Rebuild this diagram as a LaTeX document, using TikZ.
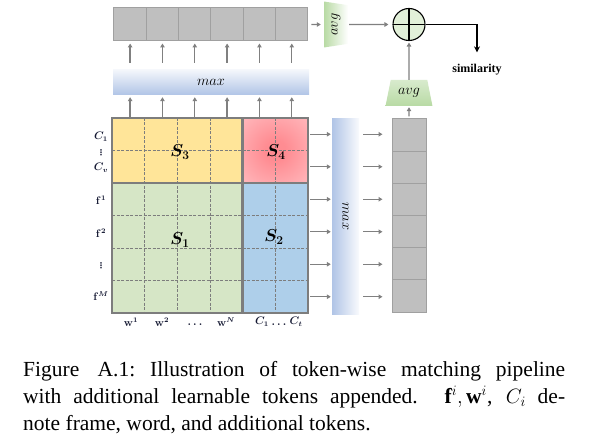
\documentclass[tikz,border=0pt]{standalone}
\usepackage{fontspec}
\setmainfont{Liberation Serif}
\newfontfamily\dotsfont{DejaVu Sans}
\usetikzlibrary{arrows.meta,shapes.geometric}

\definecolor{cellgray}{RGB}{191,191,191}
\definecolor{celledge}{RGB}{160,160,160}
\definecolor{arrgray}{RGB}{128,128,128}
\definecolor{gridgray}{RGB}{125,125,125}
\definecolor{sthree}{RGB}{255,229,153}
\definecolor{sone}{RGB}{214,230,198}
\definecolor{stwo}{RGB}{174,207,234}
\definecolor{sfourin}{RGB}{255,140,146}
\definecolor{sfourout}{RGB}{255,214,217}
\definecolor{maxblue}{RGB}{176,196,230}
\definecolor{avggreen}{RGB}{184,218,164}
\definecolor{plusgreen}{RGB}{226,240,217}
\definecolor{lblnavy}{RGB}{20,24,50}

\pgfdeclareradialshading{sfourglow}{\pgfpoint{0bp}{0bp}}{%
  color(0bp)=(sfourin); color(8bp)=(sfourin); color(55bp)=(sfourout); color(75bp)=(sfourout)}

\begin{document}
\begin{tikzpicture}[x=1pt,y=-1pt,
  topcell/.style={draw=celledge,fill=cellgray,line width=1pt,minimum width=32.3pt,minimum height=33pt,inner sep=0},
  colcell/.style={draw=celledge,fill=cellgray,line width=1pt,minimum width=34pt,minimum height=32.2pt,inner sep=0},
  arr/.style={draw=arrgray,line width=1.3pt,-{Triangle[length=4pt,width=4.5pt]}},
  gridline/.style={draw=gridgray,line width=0.6pt,dash pattern=on 3pt off 1.5pt},
  gridthick/.style={draw=gridgray,line width=2.6pt},
  lbl/.style={font=\fontsize{10.5}{12}\selectfont\boldmath,text=lblnavy,inner sep=0},
  dotlbl/.style={font=\dotsfont\bfseries\fontsize{8}{9}\selectfont,text=lblnavy,inner sep=0},
  slbl/.style={font=\fontsize{18}{20}\selectfont\boldmath,inner sep=0},
  maxh/.style={minimum width=196pt,minimum height=25pt,inner sep=0,top color=maxblue!15,bottom color=maxblue,font=\fontsize{14.5}{16}\selectfont},
  maxv/.style={minimum width=27pt,minimum height=195pt,inner sep=0,left color=maxblue,right color=maxblue!8,font=\fontsize{14.5}{16}\selectfont},
  avgb/.style={trapezium,trapezium stretches=true,trapezium left angle=71,trapezium right angle=71,minimum width=47pt,minimum height=26pt,inner sep=0,top color=avggreen!55,bottom color=avggreen,font=\fontsize{14.5}{16}\selectfont},
  avgt/.style={trapezium,shape border rotate=270,trapezium stretches=true,trapezium left angle=77,trapezium right angle=77,minimum width=46pt,minimum height=24pt,inner sep=0,left color=avggreen,right color=white,font=\fontsize{14.5}{16}\selectfont}
]
\useasboundingbox (0,0) rectangle (589,441);

% top row of scores and column of scores
\foreach \i in {1,...,6} \node[topcell] (t\i) at ({97.8+32.33*\i},24.5) {};
\foreach \j in {1,...,6} \node[colcell] (g\j) at (409,{102.9+32.17*\j}) {};

% similarity matrix
\fill[sthree] (112,118) rectangle (242.67,183);
\shade[shading=sfourglow] (242.67,118) rectangle (308,183);
\fill[sone] (112,183) rectangle (242.67,313);
\fill[stwo] (242.67,183) rectangle (308,313);
\foreach \k in {1,...,5}{
  \draw[gridline] ({112+32.667*\k},118) -- ({112+32.667*\k},313);
  \draw[gridline] (112,{118+32.5*\k}) -- (308,{118+32.5*\k});
}
\draw[gridthick] (112,118) rectangle (308,313);
\draw[gridthick] (242.67,118) -- (242.67,313);
\draw[gridthick] (112,183) -- (308,183);

\node[slbl] (s3) at (180,152) {$S_3$};
\node[slbl] (s4) at (276,152) {$S_4$};
\node[slbl] (s1) at (180,240) {$S_1$};
\node[slbl] (s2) at (274,237) {$S_2$};

% max pooling bars
\node[maxh] (maxH) at (211,82.5) {$max$};
\node[maxv] (maxV) at (345.5,216.5) {\rotatebox{-90}{$max$}};

\foreach \i in {1,...,6}{
  \coordinate (m\i) at ({97.8+32.33*\i},117);
  \draw[arr,shorten >=2pt] (m\i) -- (maxH.south -| m\i);
  \draw[arr,shorten <=7pt,shorten >=2pt] (maxH.north -| t\i) -- (t\i.south);
}
\foreach \j in {1,...,6}{
  \coordinate (r\j) at (310,{101.75+32.5*\j});
  \draw[arr,shorten >=1pt] (r\j) -- (maxV.west |- r\j);
  \draw[arr,shorten <=4pt,shorten >=9pt] (maxV.east |- r\j) -- (g\j.west |- r\j);
}

% average and sum
\node[avgb] (avgB) at (409,93) {$avg$};
\node[avgt] (avgT) at (336,24.5) {\rotatebox{90}{$avg$}};
\node[circle,draw,line width=1.1pt,fill=plusgreen,minimum size=32pt,inner sep=0,
  path picture={\draw[line width=1.1pt] (path picture bounding box.north) -- (path picture bounding box.south)
  (path picture bounding box.west) -- (path picture bounding box.east);}] (plus) at (409,24.5) {};
\node[font=\bfseries\fontsize{12}{14}\selectfont,inner sep=0] (sim) at (477,70) {similarity};

\draw[arr,shorten <=2pt,shorten >=1pt] (g1.north) -- (avgB.south);
\draw[arr,shorten >=1.5pt] (avgB.north) -- (plus.south);
\draw[arr,shorten <=3pt,shorten >=3pt] (t6.east) -- (avgT.west);
\draw[arr,shorten <=1pt,shorten >=4pt] (avgT.east) -- (plus.west);
\draw[line width=1.1pt,-{Stealth[length=6pt,width=6pt]},shorten >=12pt] (plus.east) -| (sim.north);

% token labels
\node[lbl] (lc1) at (101,137) {$C_1$};
\node[dotlbl] (ld1) at (101,152.5) {⋮};
\node[lbl] (lcv) at (101,168) {$C_v$};
\node[lbl] (lf1) at (101,200) {$\mathbf{f}^1$};
\node[lbl] (lf2) at (101,233) {$\mathbf{f}^2$};
\node[dotlbl] (ld2) at (101,266) {⋮};
\node[lbl] (lfm) at (101,296) {$\mathbf{f}^M$};

\node[lbl] (bw1) at (131,322) {$\mathbf{w}^1$};
\node[lbl] (bw2) at (162,322) {$\mathbf{w}^2$};
\node[lbl] (bd1) at (195,325) {$\dots$};
\node[lbl] (bwn) at (226,322) {$\mathbf{w}^N$};
\node[lbl] (bc1) at (262,322) {$C_1$};
\node[lbl] (bd2) at (279,325) {$\dots$};
\node[lbl] (bct) at (296,322) {$C_t$};

% caption
\node[anchor=north west,text width=542pt,inner sep=0,align=justify,font=\fontsize{21.5}{27}\selectfont] (caption) at (23,357)
  {\strut Figure\ \,A.1:\ Illustration of token-wise matching pipeline\linebreak with additional learnable tokens appended. $\mathbf{f}^i, \mathbf{w}^i$, $C_i$ de-\linebreak note frame, word, and additional tokens.};
\end{tikzpicture}
\end{document}
